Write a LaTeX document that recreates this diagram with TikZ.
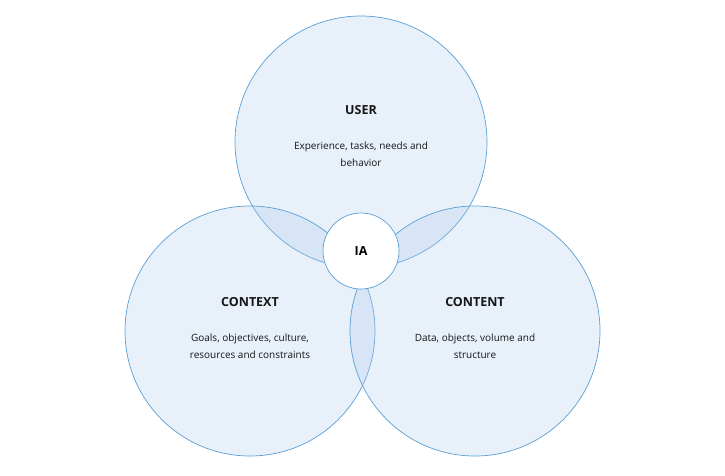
\documentclass[tikz,border=0pt]{standalone}
\usepackage{fontspec}
\setmainfont{Open Sans}
\begin{document}
\begin{tikzpicture}[x=1pt,y=-1pt,
  venn/.style={circle,draw={rgb,255:red,90;green,159;blue,212},line width=0.7pt,
    fill={rgb,255:red,170;green,200;blue,235},fill opacity=0.27,text opacity=1,minimum size=#1},
  ttl/.style={font=\bfseries\fontsize{12.5}{15}\selectfont,text={rgb,255:red,22;green,22;blue,22}},
  body/.style={font=\fontsize{10}{17}\selectfont,align=center,text={rgb,255:red,22;green,22;blue,22}}]
\useasboundingbox (0,0) rectangle (725,476);
\node[venn=252pt] (user) at (361,142) {};
\node[venn=250pt] (context) at (250,331) {};
\node[venn=250pt] (content) at (475,331) {};
\node[circle,draw={rgb,255:red,90;green,159;blue,212},line width=0.7pt,fill=white,minimum size=76pt,
  font=\bfseries\fontsize{12.5}{15}\selectfont] (ia) at (361,251) {IA};
\node[ttl] (ut) at (361,110) {USER};
\node[body] (ub) at (361,154) {Experience, tasks, needs and\\behavior};
\node[ttl] (ct) at (250,302) {CONTEXT};
\node[body] (cb) at (250,346) {Goals, objectives, culture,\\resources and constraints};
\node[ttl] (nt) at (475,302) {CONTENT};
\node[body] (nb) at (475,346) {Data, objects, volume and\\structure};
\end{tikzpicture}
\end{document}
